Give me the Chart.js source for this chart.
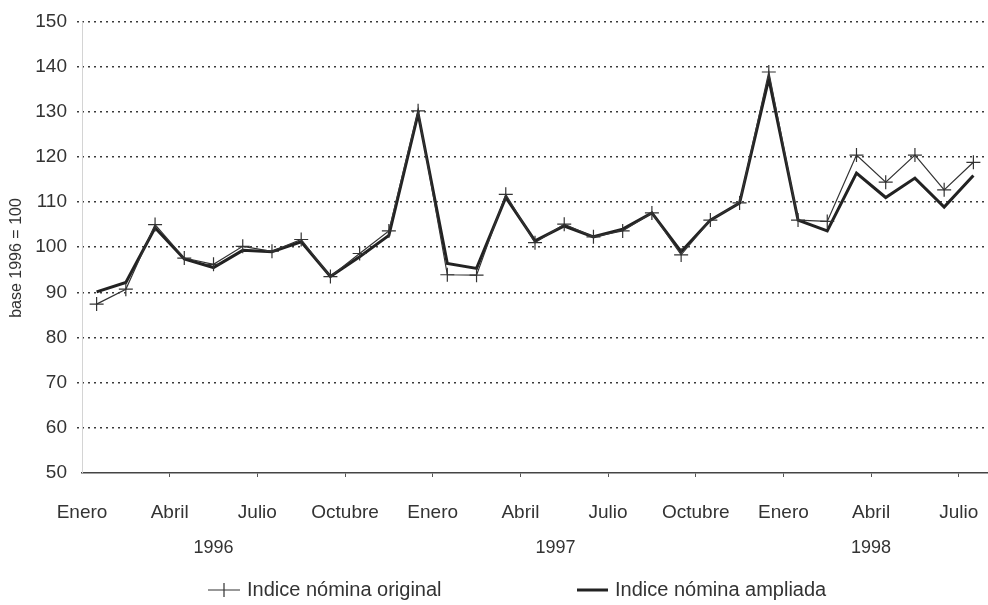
<!DOCTYPE html>
<html>
<head>
<meta charset="utf-8">
<script src="https://cdn.jsdelivr.net/npm/chart.js@4.4.1/dist/chart.umd.min.js"></script>
<style>
    html, body { margin: 0; padding: 0; background: #fff; }
    #wrap { position: relative; width: 988px; height: 605px; }
</style>
</head>
<body>
<div id="wrap"><canvas id="nominaChart"></canvas></div>
<script>
// Month names, Jan 1996 .. Jul 1998
const monthNames = ['Enero', 'Febrero', 'Marzo', 'Abril', 'Mayo', 'Junio', 'Julio',
    'Agosto', 'Septiembre', 'Octubre', 'Noviembre', 'Diciembre'];
const categories = [].concat(monthNames, monthNames, monthNames.slice(0, 7));

const years = ['1996', '1997', '1998'];

// Indice nómina original (thin line with crosses)
const original = [87.4, 90.7, 105.0, 97.6, 96.2, 100.2, 99.1, 101.7, 93.5, 98.6, 103.6, 130.2,
    93.9, 93.8, 111.7, 101.0, 105.1, 102.3, 103.6, 107.6, 98.3, 106.0, 109.8, 138.8,
    106.0, 105.7, 120.4, 114.4, 120.4, 112.7, 118.8];

// Indice nómina ampliada (thick line)
const ampliada = [90.1, 92.2, 104.3, 97.4, 95.5, 99.3, 99.0, 101.2, 93.5, 97.9, 102.6, 129.6,
    96.4, 95.3, 111.0, 101.4, 104.7, 102.3, 104.0, 107.6, 99.0, 106.0, 109.8, 137.3,
    106.0, 103.6, 116.4, 111.0, 115.3, 108.9, 115.9];

const yTicks = { min: 50, max: 150, step: 10 };

const FONT = '"Liberation Sans", Arial, Helvetica, sans-serif';
const TEXT = '#333';

// Year captions, y title, faint left axis and the bottom legend
const extrasPlugin = {
    id: 'extras',
    afterDraw(chart) {
        const ctx = chart.ctx;
        const x = chart.scales.x;
        const area = chart.chartArea;
        const yearAt = [4, 15.7, 26.5];

        ctx.save();
        // faint solid left axis
        ctx.strokeStyle = '#d4d4d4';
        ctx.lineWidth = 1;
        ctx.beginPath();
        ctx.moveTo(area.left + 0.5, area.top);
        ctx.lineTo(area.left + 0.5, area.bottom);
        ctx.stroke();

        ctx.fillStyle = TEXT;
        ctx.textAlign = 'center';
        ctx.textBaseline = 'middle';

        // y axis title
        ctx.save();
        ctx.translate(17, 258);
        ctx.rotate(-Math.PI / 2);
        ctx.font = '16px ' + FONT;
        ctx.fillText('base 1996 = 100', 0, 0);
        ctx.restore();

        ctx.font = '18px ' + FONT;
        years.forEach((yr, i) => {
            ctx.fillText(yr, x.getPixelForValue(yearAt[i]), 548);
        });

        // legend
        const ly = 590;
        ctx.strokeStyle = '#333';
        ctx.lineWidth = 1.2;
        ctx.beginPath();
        ctx.moveTo(208, ly); ctx.lineTo(240, ly);
        ctx.moveTo(224, ly - 7); ctx.lineTo(224, ly + 7);
        ctx.stroke();

        ctx.strokeStyle = '#222';
        ctx.lineWidth = 3;
        ctx.beginPath();
        ctx.moveTo(577, ly); ctx.lineTo(608, ly);
        ctx.stroke();

        ctx.font = '20px ' + FONT;
        ctx.textAlign = 'left';
        ctx.fillText('Indice nómina original', 247, ly);
        ctx.fillText('Indice nómina ampliada', 615, ly);
        ctx.restore();
    }
};

const chart = new Chart(document.getElementById('nominaChart'), {
    type: 'line',
    data: {
        labels: categories,
        datasets: [
            {
                label: 'Indice nómina original',
                data: original,
                borderColor: '#333',
                borderWidth: 1.2,
                pointStyle: 'cross',
                pointRadius: 7,
                pointBorderWidth: 1.2,
                pointBorderColor: '#333',
                tension: 0,
            },
            {
                label: 'Indice nómina ampliada',
                data: ampliada,
                borderColor: '#222',
                borderWidth: 3,
                pointRadius: 0,
                tension: 0,
            }
        ]
    },
    options: {
        responsive: true,
        maintainAspectRatio: false,
        animation: false,
        layout: { autoPadding: false, padding: { top: 15, right: 0, bottom: 0, left: 0 } },
        plugins: {
            legend: { display: false },
            tooltip: { enabled: false },
        },
        scales: {
            x: {
                type: 'category',
                offset: true,
                grid: {
                    offset: true,
                    drawOnChartArea: false,
                    drawTicks: true,
                    tickLength: 4,
                    tickColor: (c) => (c.index % 3 === 0 && c.index > 0) ? '#555' : 'rgba(0,0,0,0)',
                },
                border: { display: true, color: '#444', width: 1.5 },
                ticks: {
                    autoSkip: false,
                    maxRotation: 0,
                    minRotation: 0,
                    padding: 24,
                    labelOffset: -14.6,
                    color: TEXT,
                    font: { family: FONT, size: 19 },
                    callback: function (val, i) {
                        return i % 3 === 0 ? categories[i] : '';
                    }
                },
                afterFit(scale) {
                    scale.height = 132;
                    scale.paddingLeft = 0;
                    scale.paddingRight = 0;
                }
            },
            y: {
                min: yTicks.min,
                max: yTicks.max,
                grid: {
                    color: (c) => c.tick && c.tick.value === yTicks.min ? 'rgba(0,0,0,0)' : '#3a3a3a',
                    lineWidth: 1.6,
                    tickBorderDash: [2, 4],
                    tickLength: 5,
                    tickColor: (c) => c.tick && c.tick.value === yTicks.min ? 'rgba(0,0,0,0)' : '#3a3a3a',
                },
                border: { display: false, dash: [2, 4] },
                ticks: {
                    stepSize: yTicks.step,
                    padding: 10,
                    color: TEXT,
                    font: { family: FONT, size: 19 },
                },
                afterFit(scale) {
                    scale.width = 82;
                }
            }
        }
    },
    plugins: [extrasPlugin]
});
</script>
</body>
</html>
